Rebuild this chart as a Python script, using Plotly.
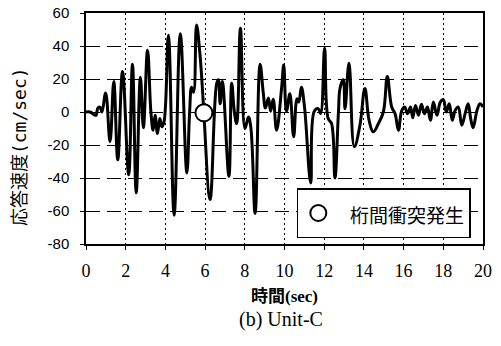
import plotly.graph_objects as go

# ---- data ----
time_s = [0, 0.2, 0.4, 0.5, 0.6, 0.7, 0.8, 0.99, 1.21, 1.4, 1.6, 1.84, 2.15, 2.34, 2.53, 2.74, 2.89,
          3.1, 3.27, 3.38, 3.48, 3.6, 3.72, 3.82, 3.93, 4.15, 4.44, 4.75, 5.08, 5.22, 5.32, 5.42,
          5.57, 5.74, 5.86, 5.94, 6.25, 6.58, 6.67, 6.76, 6.87, 7.2, 7.34, 7.47, 7.59, 7.78, 8.01,
          8.18, 8.3, 8.52, 8.77, 8.93, 9.04, 9.19, 9.3, 9.43, 9.6, 9.86, 9.96, 10.1, 10.27, 10.46,
          10.63, 10.72, 10.85, 11.0, 11.32, 11.5, 11.7, 11.82, 12.02, 12.2, 12.37, 12.54, 12.72,
          12.8, 12.96, 13.05, 13.25, 13.52, 13.8, 14.05, 14.26, 14.47, 14.73, 14.98, 15.18, 15.4,
          15.57, 15.74, 15.9, 16.05, 16.2, 16.35, 16.46, 16.6, 16.75, 16.9, 17.05, 17.2, 17.35,
          17.5, 17.68, 17.85, 18.0, 18.15, 18.3, 18.45, 18.6, 18.75, 18.93, 19.1, 19.25, 19.38,
          19.5, 19.7, 19.85, 20]
velocity = [0, 0, -1.5, -2, 2.5, 3, 0, 11.5, -18, 18.5, -29, 24.5, -38, 29, -49, 21, -9.5,
            37.5, 0, -11, -2, -13, -4, -9, -6, 46.5, -62.5, 47.5, -37, 0, 15, 12,
            52.7, 35, 15, -1, -53, 17, 19.5, 5, 18.5, -39, 17.5, 0.5, -7, 50.7, -10,
            -3, -9, -61.5, 29, 11.7, 2.4, 8.5, 0.5, 7.7, -11, 15.4, 28.5, 0.5, 11, -15,
            8, 6, 15, 4, -43, 0.5, 2, -1, 38.6, -4, -7, -40, 0.5,
            14.5, 19.5, 2, 29.5, -21, -8, 14.3, -5, -12, -7, 0, 21.5, 3,
            -1, -11, 0.5, 3, -1, 3, -3.5, 4, -2, 4.7, -1, 3, -5,
            6, -2, 6, 7.5, 0, 5, -5, 1, 3, -8, -1, 5, -4,
            -9.5, 1, 5, 3]

collision_t = [5.94]
collision_v = [-0.5]

x_ticks = [0, 2, 4, 6, 8, 10, 12, 14, 16, 18, 20]
y_ticks = [-80, -60, -40, -20, 0, 20, 40, 60]

legend_label = "桁間衝突発生"
x_title = "時間(sec)"
y_title = "応答速度(cm/sec)"
caption = "(b) Unit-C"

SERIF = "Liberation Serif, Noto Sans CJK JP, serif"
SANS = "Liberation Sans, Noto Sans CJK JP, sans-serif"
CJK = "Noto Sans CJK JP, sans-serif"
YTITLE_FONT = "DejaVu Sans Mono, Noto Sans CJK JP, sans-serif"

fig = go.Figure()
fig.add_trace(go.Scatter(
    x=time_s, y=velocity, mode="lines",
    line=dict(color="black", width=3, shape="spline", smoothing=1.15),
    showlegend=False, hoverinfo="skip"))
fig.add_trace(go.Scatter(
    x=collision_t, y=collision_v, mode="markers",
    name='&nbsp;&nbsp;<span style="font-size:19px">' + legend_label + '</span>',
    marker=dict(symbol="circle", size=17, color="white",
                line=dict(color="black", width=2)),
    showlegend=True))

fig.update_layout(
    width=501, height=346,
    margin=dict(l=86, r=18, t=13, b=102, autoexpand=False),
    paper_bgcolor="white", plot_bgcolor="white",
    showlegend=True,
    legend=dict(x=0.531, y=0.242, xanchor="left", yanchor="top",
                bgcolor="white", bordercolor="black", borderwidth=1.5,
                font=dict(family=CJK, size=26, color="black"),
                itemwidth=30, entrywidth=187, entrywidthmode="pixels",
                tracegroupgap=0),
    xaxis=dict(range=[0, 20], tickvals=x_ticks, ticktext=[str(v) for v in x_ticks],
               automargin=False, ticklabeloverflow="allow",
               showgrid=True, gridcolor="black", gridwidth=1, griddash="2px,3px",
               showline=True, linecolor="black", linewidth=1.5, mirror=True,
               ticks="outside", ticklen=4, tickcolor="black",
               tickfont=dict(family=SERIF, size=18, color="black"),
               ticklabelstandoff=6,
               title=dict(text="<b>" + x_title + "</b>",
                          font=dict(family=SERIF, size=17, color="black"), standoff=10),
               zeroline=False),
    yaxis=dict(range=[-80, 60], tickvals=y_ticks, ticktext=[str(v) for v in y_ticks],
               automargin=False, ticklabeloverflow="allow",
               showgrid=True, gridcolor="black", gridwidth=1, griddash="14px,7px",
               showline=True, linecolor="black", linewidth=1.5, mirror=True,
               ticks="outside", ticklen=4, tickcolor="black",
               tickfont=dict(family=SANS, size=15, color="black"),
               ticklabelstandoff=8,
               zeroline=False),
    annotations=[
        dict(text=y_title, xref="paper", yref="paper", x=-0.166, y=0.42,
             xanchor="center", yanchor="middle", textangle=-90, showarrow=False,
             font=dict(family=YTITLE_FONT, size=18, color="black")),
        dict(text=caption, xref="paper", yref="paper", x=0.491, y=-0.329,
             xanchor="center", yanchor="middle", showarrow=False,
             font=dict(family=SERIF, size=20, color="black")),
    ],
)

fig.write_html("out.html", config={"displayModeBar": False},
               post_script="document.body.style.margin='0';")
